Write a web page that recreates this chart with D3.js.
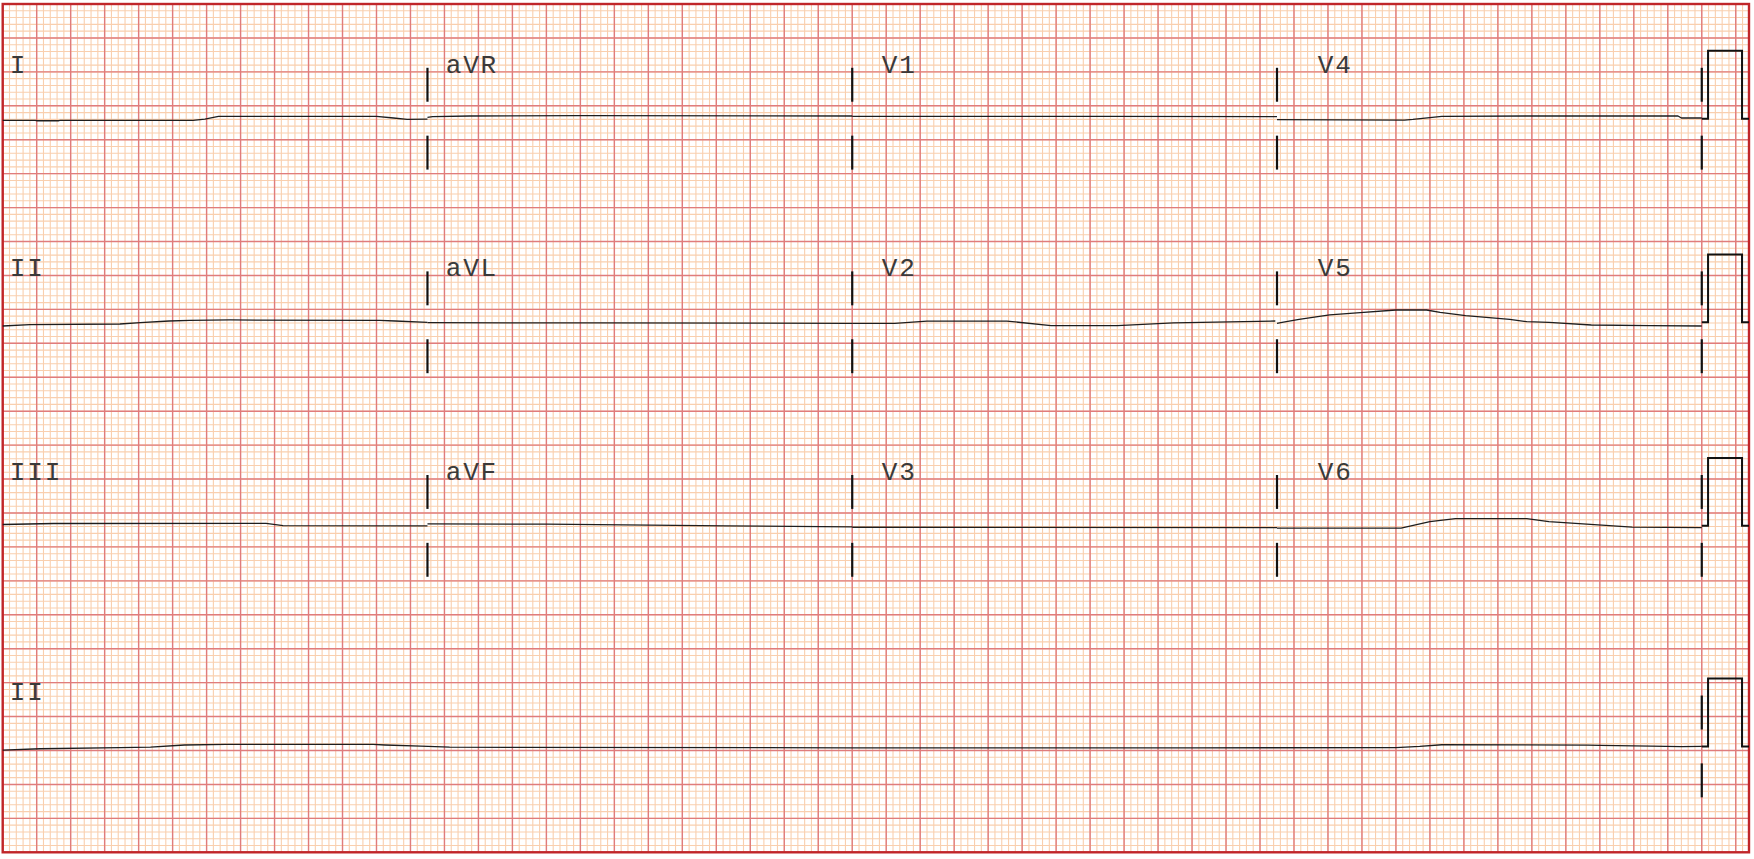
<!DOCTYPE html>
<html>
<head>
<meta charset="utf-8">
<script src="https://cdn.jsdelivr.net/npm/d3@7"></script>
<style>
html,body{margin:0;padding:0;background:#fff;}
svg{display:block;}
</style>
</head>
<body>
<svg id="ecg" width="1754" height="859"></svg>
<script>
// ---------------- DATA (time in s, amplitude in mV) ----------------
const leadGrid = [
  ["I", "aVR", "V1", "V4"],
  ["II", "aVL", "V2", "V5"],
  ["III", "aVF", "V3", "V6"]
];
const rhythmLabel = "II";

const lead_I   = [[0,-0.024],[0.19,-0.024],[0.2,-0.03],[0.33,-0.03],[0.34,-0.024],[1.12,-0.024],[1.19,-0.005],[1.27,0.035],[2.2,0.035],[2.3,0.01],[2.38,-0.01],[2.5,-0.005]];
const lead_aVR = [[2.5,0.02],[2.53,0.03],[2.75,0.04],[3.4,0.044],[5.0,0.04]];
const lead_V1  = [[5.0,0.035],[6.5,0.035],[7.5,0.03]];
const lead_V4  = [[7.5,-0.015],[8.25,-0.02],[8.3,-0.01],[8.47,0.035],[9.0,0.04],[9.86,0.04],[9.88,0.01],[10.0,0.01]];

const lead_II  = [[0,-0.055],[0.16,-0.035],[0.69,-0.025],[0.81,-0.006],[0.98,0.019],[1.10,0.029],[1.34,0.034],[2.22,0.029],[2.31,0.019],[2.5,0.0]];
const lead_aVL = [[2.5,-0.006],[3.5,-0.01],[5.0,-0.015]];
const lead_V2  = [[5.0,-0.015],[5.25,-0.015],[5.44,0.018],[5.91,0.018],[6.17,-0.048],[6.56,-0.048],[6.89,-0.01],[7.49,0.019]];
const lead_V5  = [[7.5,-0.015],[7.53,0.0],[7.63,0.044],[7.81,0.108],[7.99,0.141],[8.20,0.181],[8.38,0.181],[8.46,0.147],[8.61,0.097],[8.87,0.044],[8.97,0.009],[9.1,0.0],[9.35,-0.04],[9.69,-0.05],[10.0,-0.055]];

const lead_III = [[0,0.02],[0.3,0.035],[1.55,0.037],[1.65,0.005],[2.5,0.0]];
const lead_aVF = [[2.5,0.03],[3.2,0.025],[4.26,0.0],[5.0,-0.015]];
const lead_V3  = [[5.0,-0.02],[7.5,-0.025]];
const lead_V6  = [[7.5,-0.034],[8.23,-0.034],[8.40,0.063],[8.55,0.107],[8.97,0.107],[9.10,0.063],[9.59,-0.019],[10.0,-0.025]];

const rhythm_II = [[0,-0.053],[0.22,-0.034],[0.69,-0.019],[0.87,-0.009],[1.07,0.021],[1.31,0.029],[2.18,0.029],[2.25,0.021],[2.46,0.006],[2.63,-0.009],[3.0,-0.015],[5.0,-0.02],[7.0,-0.02],[8.2,-0.018],[8.34,0.0],[8.47,0.025],[9.33,0.02],[9.4,0.015],[9.7,0.006],[9.88,-0.004],[10.0,0.0]];

// 1 mV, 0.2 s calibration pulse (time, mV)
const calPulse = [[10.0,0],[10.037,0],[10.037,1],[10.237,1],[10.237,0],[10.278,0]];
const separatorTimes = [2.5, 5.0, 7.5, 10.0];

const traces = [
  [lead_I, lead_aVR, lead_V1, lead_V4],
  [lead_II, lead_aVL, lead_V2, lead_V5],
  [lead_III, lead_aVF, lead_V3, lead_V6]
];

// ---------------- LAYOUT ----------------
const W = 1754, H = 859;
const tMax = 10.278, mvMax = 12.5;
const rowBase = [10.81, 7.81, 4.81, 1.56];   // mV position of each row baseline
const x = d3.scaleLinear().domain([0, tMax]).range([2.7, 1749]);
const y = d3.scaleLinear().domain([0, mvMax]).range([852.3, 4]);

const svg = d3.select("#ecg");
svg.append("rect").attr("width", W).attr("height", H).attr("fill", "#ffffff");

// grid
const g = svg.append("g");
const minorT = d3.range(0, Math.floor(tMax / 0.04 + 1e-6) + 1).map(k => k * 0.04);
const minorV = d3.range(0, Math.round(mvMax / 0.1) + 1).map(k => k * 0.1);
const majorT = d3.range(0, Math.floor(tMax / 0.2 + 1e-6) + 1).map(k => k * 0.2);
const majorV = d3.range(0, Math.round(mvMax / 0.5) + 1).map(k => k * 0.5);

g.selectAll("line.mnx").data(minorT).join("line").attr("class","mnx")
  .attr("x1", d => x(d)).attr("x2", d => x(d)).attr("y1", y(0)).attr("y2", y(mvMax))
  .attr("stroke", "#f9cfae").attr("stroke-width", 1.1);
g.selectAll("line.mny").data(minorV).join("line").attr("class","mny")
  .attr("y1", d => y(d)).attr("y2", d => y(d)).attr("x1", x(0)).attr("x2", x(tMax))
  .attr("stroke", "#f9cfae").attr("stroke-width", 1.1);
g.selectAll("line.mjx").data(majorT).join("line").attr("class","mjx")
  .attr("x1", d => x(d)).attr("x2", d => x(d)).attr("y1", y(0)).attr("y2", y(mvMax))
  .attr("stroke", "#e07c7c").attr("stroke-width", 1.4);
g.selectAll("line.mjy").data(majorV).join("line").attr("class","mjy")
  .attr("y1", d => y(d)).attr("y2", d => y(d)).attr("x1", x(0)).attr("x2", x(tMax))
  .attr("stroke", "#e07c7c").attr("stroke-width", 1.4);

// border
svg.append("rect")
  .attr("x", x(0)).attr("y", y(mvMax))
  .attr("width", x(tMax) - x(0)).attr("height", y(0) - y(mvMax))
  .attr("fill", "none").attr("stroke", "#c0262a").attr("stroke-width", 2.4);

const lineGen = base => d3.line().x(d => x(d[0])).y(d => y(base + d[1]));
const tr = svg.append("g");

function drawRow(base, segs, seps, labels) {
  segs.forEach(s => {
    tr.append("path").datum(s).attr("d", lineGen(base))
      .attr("fill", "none").attr("stroke", "#1e1e1e").attr("stroke-width", 1.3)
      .attr("stroke-linejoin", "round");
  });
  tr.append("path").datum(calPulse).attr("d", lineGen(base))
    .attr("fill", "none").attr("stroke", "#111").attr("stroke-width", 2);
  seps.forEach(t => {
    [[0.25, 0.75], [-0.25, -0.75]].forEach(([a, b]) => {
      tr.append("line").attr("x1", x(t)).attr("x2", x(t))
        .attr("y1", y(base + a)).attr("y2", y(base + b))
        .attr("stroke", "#111").attr("stroke-width", 2.2);
    });
  });
  labels.forEach((lab, i) => {
    tr.append("text").attr("x", x(i * 2.566 + 0.042)).attr("y", y(base + 0.68))
      .attr("font-family", "'Liberation Mono', monospace")
      .attr("font-size", 26).attr("letter-spacing", 1.8)
      .attr("fill", "#3a3a3a").text(lab);
  });
}

traces.forEach((row, r) => drawRow(rowBase[r], row, separatorTimes, leadGrid[r]));
drawRow(rowBase[3], [rhythm_II], [10.0], [rhythmLabel]);
</script>
</body>
</html>
